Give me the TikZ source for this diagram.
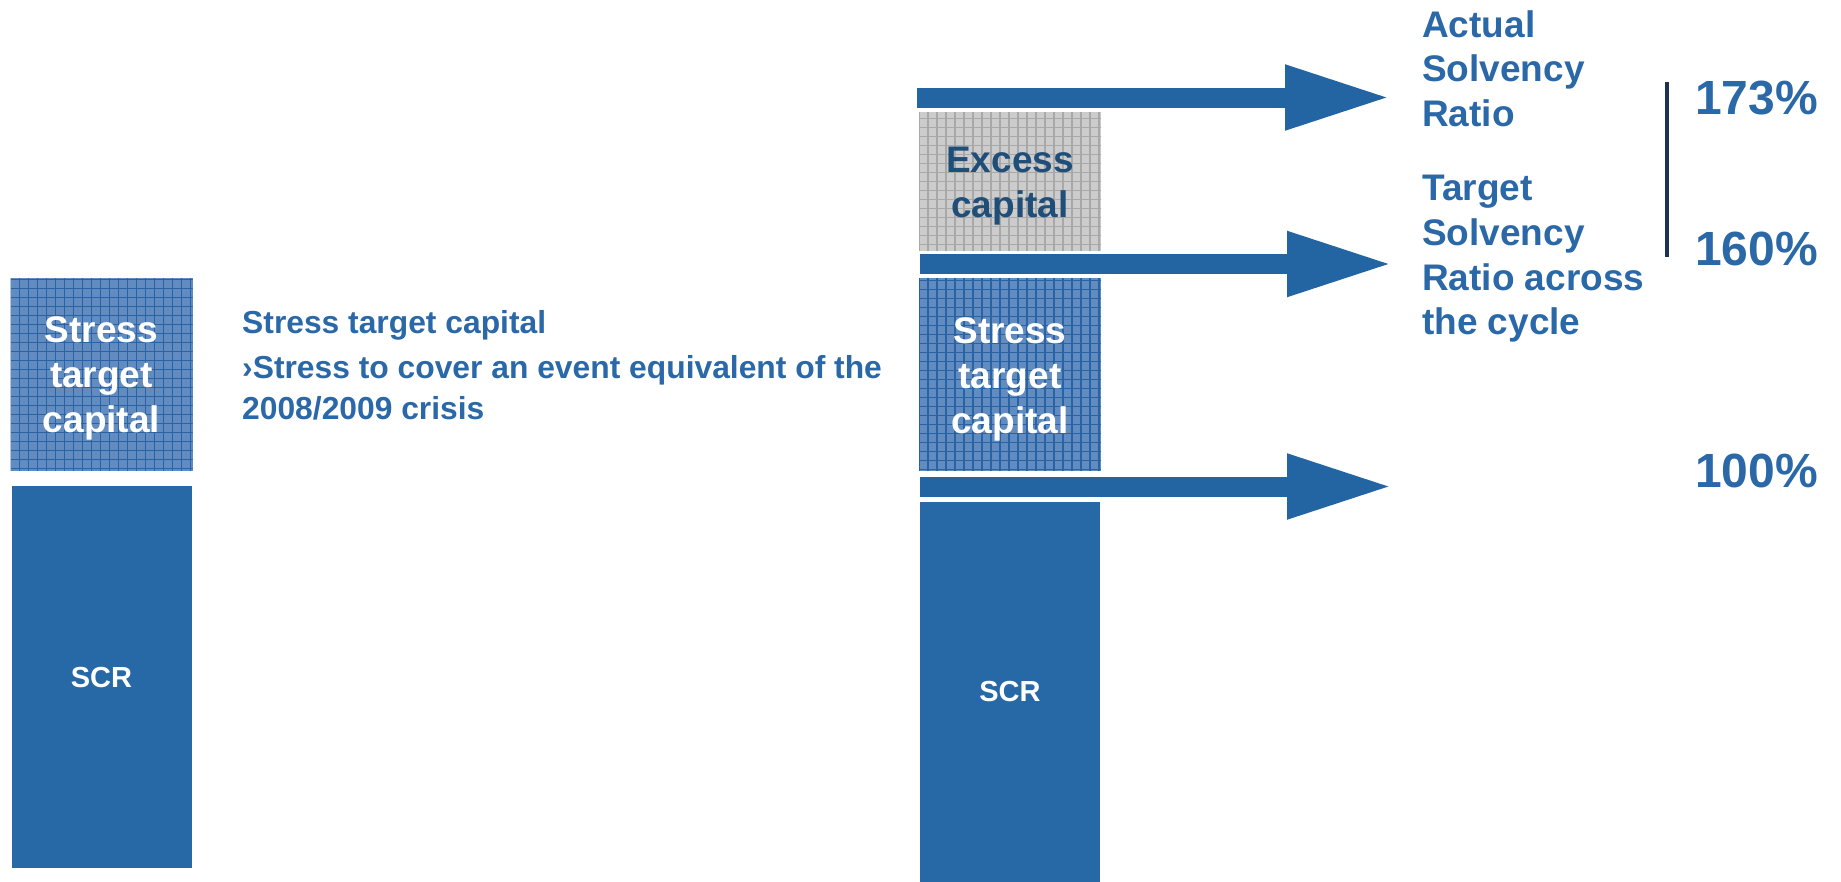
\documentclass[tikz,border=0pt]{standalone}
\usepackage{fontspec}
\setmainfont{Liberation Sans}
\usetikzlibrary{positioning}
\usetikzlibrary{arrows.meta}
\definecolor{scrblue}{RGB}{39,104,166}
\definecolor{arrowblue}{RGB}{35,101,163}
\definecolor{labelblue}{RGB}{42,104,168}
\definecolor{darkblue}{RGB}{31,78,121}
\definecolor{barnavy}{RGB}{28,51,80}
\definecolor{stressfill}{RGB}{98,140,192}
\definecolor{stressgrid}{RGB}{40,100,165}
\definecolor{excessfill}{RGB}{204,204,204}
\definecolor{excessgrid}{RGB}{168,168,168}
\tikzset{
	>={Triangle[length=106pt,width=60pt]},
	block/.style={
		rectangle,
		inner sep=0pt,
		text width=182pt,
		align=center,
		font=\fontsize{37}{45}\selectfont\bfseries},
	gridded/.style={
		path picture={
			\draw[#1, line width=1.1pt, step=9pt]
				(path picture bounding box.south west) grid (path picture bounding box.north east);
		}},
	stressblock/.style={
		block,
		fill=stressfill,
		gridded=stressgrid,
		minimum height=193pt,
		text height=34pt,
		text=white},
	excessblock/.style={
		block,
		fill=excessfill,
		gridded=excessgrid,
		minimum height=139pt,
		text height=35pt,
		text=darkblue},
	scrblock/.style={
		block,
		fill=scrblue,
		text width=180pt,
		minimum height=382pt,
		text=white,
		font=\fontsize{29}{35}\selectfont\bfseries},
	ratiolabel/.style={
		anchor=north west,
		inner sep=0pt,
		align=left,
		text=labelblue,
		font=\fontsize{37}{44.7}\selectfont\bfseries},
	percent/.style={
		anchor=base west,
		inner sep=0pt,
		text=labelblue,
		font=\fontsize{48}{58}\selectfont\bfseries},
	levelarrow/.style={->, draw=arrowblue, line width=20pt},
}
\begin{document}
\begin{tikzpicture}[x=1pt, y=-1pt]
	\useasboundingbox (0,0) rectangle (1841,881);
	% left column
	\node[stressblock] (lstress) at (101.5,374.5) {Stress\\target\\capital};
	\node[scrblock, below=15pt of lstress] (lscr) {SCR};
	\node[anchor=north west, inner sep=0pt, align=left, text=labelblue,
		font=\fontsize{31.8}{41}\selectfont\bfseries] (stressnote) at (242,310)
		{Stress target capital\\[4pt]›Stress to cover an event equivalent of the\\2008/2009 crisis};
	% right column
	\node[excessblock] (excess) at (1010,181.5) {Excess\\capital};
	\node[stressblock, below=27pt of excess] (rstress) {Stress\\target\\capital};
	\node[scrblock, below=30pt of rstress, minimum height=380pt] (rscr) {SCR};

	\coordinate (tail1) at (917,97.5);
	\coordinate (tip1) at (1391,97.5);
	\coordinate (tail2) at (920,264);
	\coordinate (tip2) at (1393,264);
	\coordinate (tail3) at (920,486.5);
	\coordinate (tip3) at (1393,486.5);
	\draw[levelarrow] (tail1) -- (tip1);
	\draw[levelarrow] (tail2) -- (tip2);
	\draw[levelarrow] (tail3) -- (tip3);

	\node[ratiolabel] (actual) at (1422,10) {Actual\\Solvency\\Ratio};
	\node[ratiolabel] (target) at (1422,175) {Target\\Solvency\\Ratio across\\the cycle};

	\coordinate (bartop) at (1667,82);
	\coordinate (barbot) at (1667,257);
	\draw[barnavy, line width=3.5pt] (bartop) -- (barbot);

	\node[percent] (p173) at (1695,114) {173\%};
	\node[percent] (p160) at (1695,265) {160\%};
	\node[percent] (p100) at (1695,487) {100\%};
\end{tikzpicture}
\end{document}
